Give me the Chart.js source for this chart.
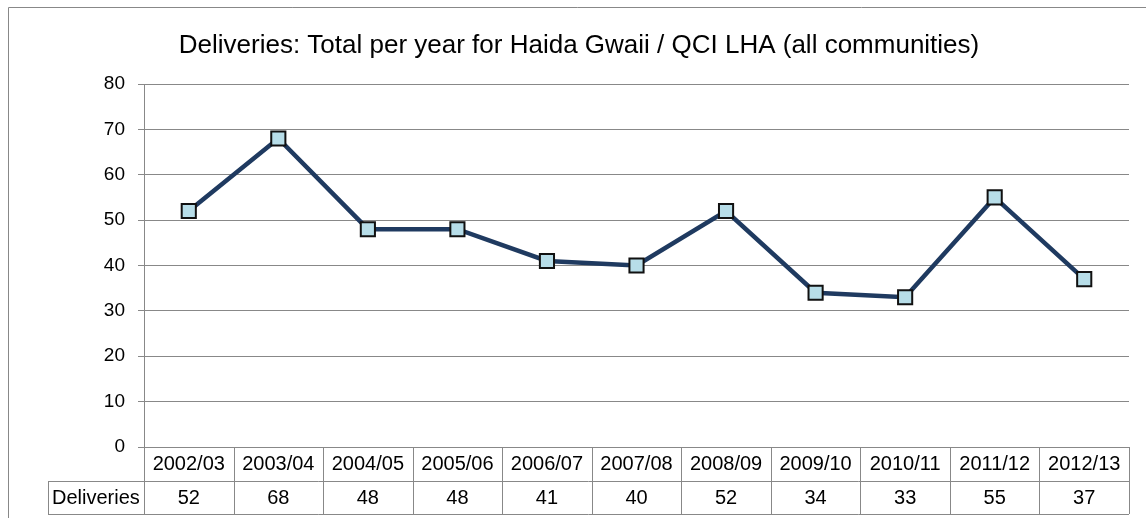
<!DOCTYPE html>
<html>
<head>
<meta charset="utf-8">
<script src="https://cdn.jsdelivr.net/npm/chart.js@4.4.1/dist/chart.umd.min.js"></script>
<style>
  html, body { margin: 0; padding: 0; background: #fff; }
  #wrap { width: 1146px; height: 522px; position: relative; }
</style>
</head>
<body>
<div id="wrap"><canvas id="lineChart" width="1146" height="522"></canvas></div>
<script>
// data
const chartTitle = 'Deliveries: Total per year for Haida Gwaii / QCI LHA (all communities)';
const seriesName = 'Deliveries';
const years = ['2002/03', '2003/04', '2004/05', '2005/06', '2006/07', '2007/08',
               '2008/09', '2009/10', '2010/11', '2011/12', '2012/13'];
const deliveries = [52, 68, 48, 48, 41, 40, 52, 34, 33, 55, 37];
const yTicks = [0, 10, 20, 30, 40, 50, 60, 70, 80];

const FONT = '"Liberation Sans", Arial, sans-serif';
const gridGray = '#888888';

// draws the frame, the title and the data table under the x axis
const tablePlugin = {
    id: 'tablePlugin',
    afterDraw(chart) {
        const ctx = chart.ctx;
        const xs = chart.scales.x;
        const area = chart.chartArea;
        const rowH = 33.5;
        const top = area.bottom;
        const left = area.left;
        const right = area.right;
        const labelLeft = 48;
        const colW = (right - left) / years.length;

        ctx.save();
        // outer frame (left and top only visible)
        ctx.strokeStyle = gridGray;
        ctx.lineWidth = 1;
        ctx.beginPath();
        ctx.moveTo(8.5, 518);
        ctx.lineTo(8.5, 7.5);
        ctx.lineTo(1146, 7.5);
        ctx.stroke();

        // title
        ctx.fillStyle = '#000';
        ctx.font = '26px ' + FONT;
        ctx.textAlign = 'center';
        ctx.textBaseline = 'middle';
        ctx.fillText(chartTitle, 579, 46);

        // table grid
        ctx.beginPath();
        ctx.moveTo(labelLeft, Math.round(top + rowH) + 0.5);
        ctx.lineTo(right, Math.round(top + rowH) + 0.5);
        ctx.moveTo(labelLeft, Math.round(top + 2 * rowH) + 0.5);
        ctx.lineTo(right, Math.round(top + 2 * rowH) + 0.5);
        ctx.moveTo(labelLeft + 0.5, Math.round(top + rowH));
        ctx.lineTo(labelLeft + 0.5, Math.round(top + 2 * rowH));
        for (let i = 0; i <= years.length; i++) {
            const x = Math.round(left + i * colW) + 0.5;
            ctx.moveTo(x, top);
            ctx.lineTo(x, Math.round(top + 2 * rowH));
        }
        ctx.stroke();

        // table text
        ctx.font = '20px ' + FONT;
        ctx.fillStyle = '#000';
        years.forEach((y, i) => {
            const cx = xs.getPixelForValue(i);
            ctx.textAlign = 'center';
            ctx.fillText(y, cx, top + rowH / 2 + 1);
            ctx.fillText(String(deliveries[i]), cx, top + rowH * 1.5 + 1);
        });
        ctx.textAlign = 'left';
        ctx.fillText(seriesName, labelLeft + 4, top + rowH * 1.5 + 1);
        ctx.restore();
    }
};

const config = {
    type: 'line',
    data: {
        labels: years,
        datasets: [{
            label: seriesName,
            data: deliveries,
            borderColor: '#1f3a60',
            borderWidth: 4.5,
            pointStyle: 'rect',
            pointRadius: 10,
            pointBackgroundColor: '#b7dde8',
            pointBorderColor: '#111',
            pointBorderWidth: 2,
            tension: 0
        }]
    },
    options: {
        responsive: false,
        animation: false,
        layout: { padding: { top: 84, right: 17, bottom: 75, left: 0 } },
        plugins: {
            legend: { display: false },
            title: { display: false },
            tooltip: { enabled: false }
        },
        scales: {
            x: {
                type: 'category',
                offset: true,
                grid: { display: false, drawTicks: false },
                border: { display: false },
                ticks: { display: false },
                afterFit(scale) { scale.height = 0; }
            },
            y: {
                min: 0,
                max: 80,
                afterBuildTicks(scale) { scale.ticks = yTicks.map(v => ({ value: v })); },
                afterFit(scale) { scale.width = 144; },
                grid: { color: gridGray, lineWidth: 1, tickLength: 6 },
                border: { color: gridGray, width: 1 },
                ticks: {
                    color: '#000',
                    font: { family: FONT, size: 19 },
                    padding: 13
                }
            }
        }
    },
    plugins: [tablePlugin]
};

const myLineChart = new Chart(document.getElementById('lineChart'), config);
</script>
</body>
</html>
